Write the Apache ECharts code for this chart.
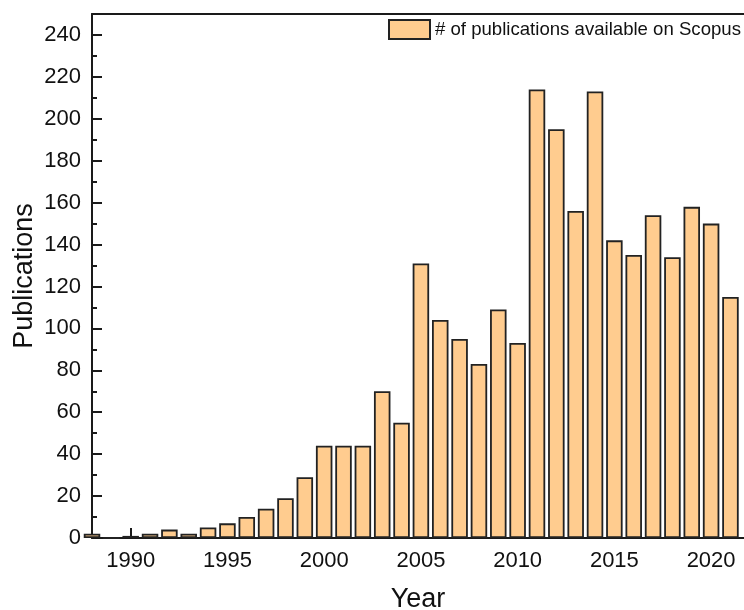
<!DOCTYPE html>
<html>
<head>
<meta charset="utf-8">
<script src="https://cdn.jsdelivr.net/npm/echarts@6/dist/echarts.min.js"></script>
<style>
    html, body {margin: 0; padding: 0; background: #fff;}
    #main {width: 744px; height: 610px;}
</style>
</head>
<body>
<div id="main"></div>
<script>
// 数据：年份与发表数量
var years = [1988, 1989, 1990, 1991, 1992, 1993, 1994, 1995, 1996, 1997, 1998, 1999,
    2000, 2001, 2002, 2003, 2004, 2005, 2006, 2007, 2008, 2009, 2010,
    2011, 2012, 2013, 2014, 2015, 2016, 2017, 2018, 2019, 2020, 2021];
var publications = [2, 0, 1, 2, 4, 2, 5, 7, 10, 14, 19, 29,
    44, 44, 44, 70, 55, 131, 104, 95, 83, 109, 93,
    214, 195, 156, 213, 142, 135, 154, 134, 158, 150, 115];
var xTicks = [1990, 1995, 2000, 2005, 2010, 2015, 2020];
var yTicks = [0, 20, 40, 60, 80, 100, 120, 140, 160, 180, 200, 220, 240];
var yMinorTicks = [10, 30, 50, 70, 90, 110, 130, 150, 170, 190, 210, 230];
var seriesName = '# of publications available on Scopus';

var font = 'Liberation Sans, Arial, sans-serif';
var lineStyle = {color: '#1a1a1a', width: 2};

var data = [];
for (let i = 0; i < years.length; i++) {
    data.push([years[i], publications[i]]);
}

var myChart = echarts.init(document.getElementById('main'));
myChart.setOption({
    animation: false,
    backgroundColor: '#fff',
    grid: {left: 92, top: 14, right: 0, bottom: 72, containLabel: false, outerBoundsMode: 'none'},
    legend: {
        left: 388,
        top: 19,
        padding: 0,
        itemWidth: 41,
        itemHeight: 19,
        icon: 'rect',
        textStyle: {fontFamily: font, fontSize: 18.6, color: '#111'},
        data: [seriesName]
    },
    xAxis: [
        {
            type: 'value',
            min: 1988,
            max: 2021.7,
            splitLine: {show: false},
            axisLine: {onZero: false, lineStyle: lineStyle},
            axisTick: {inside: true, length: 10, lineStyle: lineStyle, customValues: xTicks},
            axisLabel: {
                customValues: xTicks,
                formatter: function (v) { return String(v); },
                fontFamily: font, fontSize: 22, color: '#111', margin: 12
            },
            name: 'Year',
            nameLocation: 'middle',
            nameGap: 48,
            nameTextStyle: {fontFamily: font, fontSize: 27, color: '#111'}
        },
        {
            type: 'value',
            position: 'top',
            min: 1988,
            max: 2021.7,
            splitLine: {show: false},
            axisLine: {onZero: false, lineStyle: lineStyle},
            axisTick: {show: false},
            axisLabel: {show: false}
        }
    ],
    yAxis: [
        {
            type: 'value',
            min: 0,
            max: 250,
            splitLine: {show: false},
            axisLine: {show: true, onZero: false, lineStyle: lineStyle},
            axisTick: {inside: true, length: 10, lineStyle: lineStyle, customValues: yTicks},
            axisLabel: {
                customValues: yTicks,
                fontFamily: font, fontSize: 22, color: '#111', margin: 11
            },
            name: 'Publications',
            nameLocation: 'middle',
            nameGap: 54,
            nameMoveOverlap: false,
            nameTextStyle: {fontFamily: font, fontSize: 27, color: '#111'}
        },
        {
            // 次刻度
            type: 'value',
            position: 'left',
            min: 0,
            max: 250,
            splitLine: {show: false},
            axisLine: {show: false},
            axisTick: {inside: true, length: 5, lineStyle: lineStyle, customValues: yMinorTicks},
            axisLabel: {show: false}
        }
    ],
    series: [
        {
            name: seriesName,
            type: 'bar',
            xAxisIndex: 0,
            yAxisIndex: 0,
            barWidth: 16.5,
            clip: true,
            itemStyle: {color: '#FFCC8F', borderColor: '#222', borderWidth: 1.8},
            data: data
        }
    ]
});
</script>
</body>
</html>
